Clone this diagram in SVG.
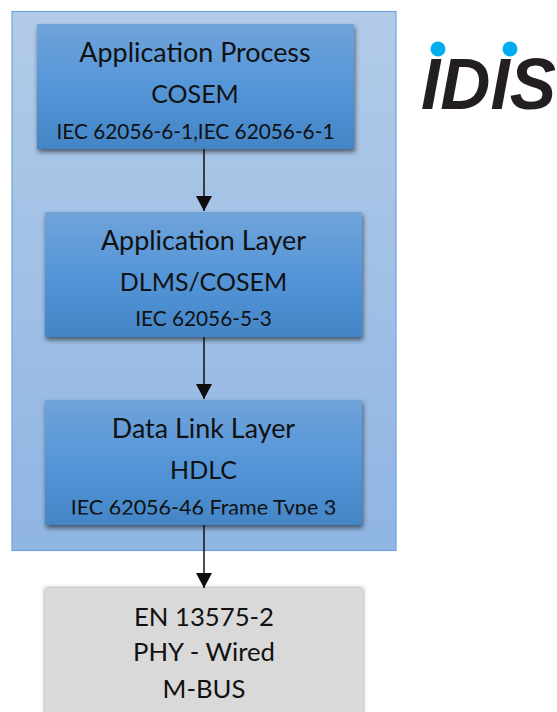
<svg xmlns="http://www.w3.org/2000/svg" width="557" height="712" viewBox="0 0 557 712">
<defs>
<linearGradient id="outer" x1="0" y1="0" x2="0" y2="1"><stop offset="0" stop-color="#b2cbe8"/><stop offset="1" stop-color="#8fb5e3"/></linearGradient>
<linearGradient id="blue" x1="0" y1="0" x2="0" y2="1"><stop offset="0" stop-color="#70a3da"/><stop offset="0.5" stop-color="#5596d8"/><stop offset="1" stop-color="#4385c6"/></linearGradient>
<filter id="sh" x="-10%" y="-10%" width="120%" height="125%"><feDropShadow dx="1" dy="3" stdDeviation="2.500" flood-color="#000" flood-opacity="0.55"/></filter>
<filter id="sh2" x="-10%" y="-10%" width="120%" height="125%"><feDropShadow dx="0" dy="0" stdDeviation="2" flood-color="#000" flood-opacity="0.45"/></filter>
<clipPath id="clip3"><rect x="45" y="400" width="317" height="114.500"/></clipPath>
<marker id="arrow" markerUnits="userSpaceOnUse" markerWidth="16" markerHeight="16" refX="15" refY="8" orient="auto"><path d="M0 0L15 8L0 16Z" fill="#0d0d0d"/></marker>
</defs>
<style>
text{font-family:Lato,"Liberation Sans",sans-serif;fill:#111;text-anchor:middle}
.big{font-size:26.900px}.caps{font-size:25px}.small{font-size:20.800px}.gray{font-size:25.700px}
.box{fill:url(#blue);filter:url(#sh)}
.conn{stroke:#111;stroke-width:1.500;fill:none;marker-end:url(#arrow)}
</style>
<rect id="container" x="12" y="11.500" width="384" height="539" fill="url(#outer)" stroke="#6fa3db" stroke-width="1.200"/>
<g id="node-process">
<rect class="box" x="37" y="24" width="317" height="125"/>
<text class="big" x="195" y="62">Application Process</text>
<text class="caps" x="195" y="103">COSEM</text>
<text class="small" x="195.500" y="139">IEC 62056-6-1,IEC 62056-6-1</text>
</g>
<g id="node-application">
<rect class="box" x="45" y="212" width="317" height="125"/>
<text class="big" x="203.500" y="250">Application Layer</text>
<text class="caps" x="203.500" y="291">DLMS/COSEM</text>
<text class="small" x="203.500" y="326">IEC 62056-5-3</text>
</g>
<g id="node-datalink">
<rect class="box" x="45" y="400" width="317" height="125"/>
<g clip-path="url(#clip3)">
<text class="big" x="203.500" y="438">Data Link Layer</text>
<text class="caps" x="203.500" y="479">HDLC</text>
<text class="small" x="203.500" y="515" style="font-size:21.500px">IEC 62056-46 Frame Type 3</text>
</g>
</g>
<g id="node-phy">
<rect x="45" y="588" width="318" height="130" fill="#d9d9d9" filter="url(#sh2)"/>
<text class="gray" x="204" y="626">EN 13575-2</text>
<text class="gray" x="204" y="661">PHY - Wired</text>
<text class="gray" x="204" y="698">M-BUS</text>
</g>
<g id="connectors">
<line class="conn" x1="204" y1="149" x2="204" y2="211"/>
<line class="conn" x1="204" y1="337" x2="204" y2="399"/>
<line class="conn" x1="204" y1="525" x2="204" y2="588"/>
</g>
<g id="logo">
<text x="421" y="109" textLength="135" lengthAdjust="spacingAndGlyphs" style="text-anchor:start;font-family:'Liberation Sans',sans-serif;font-style:italic;font-weight:bold;font-size:72px;fill:#231f20">IDIS</text>
<circle cx="438" cy="49" r="7.500" fill="#00aeef"/>
<circle cx="510" cy="49" r="7.500" fill="#00aeef"/>
</g>
</svg>
